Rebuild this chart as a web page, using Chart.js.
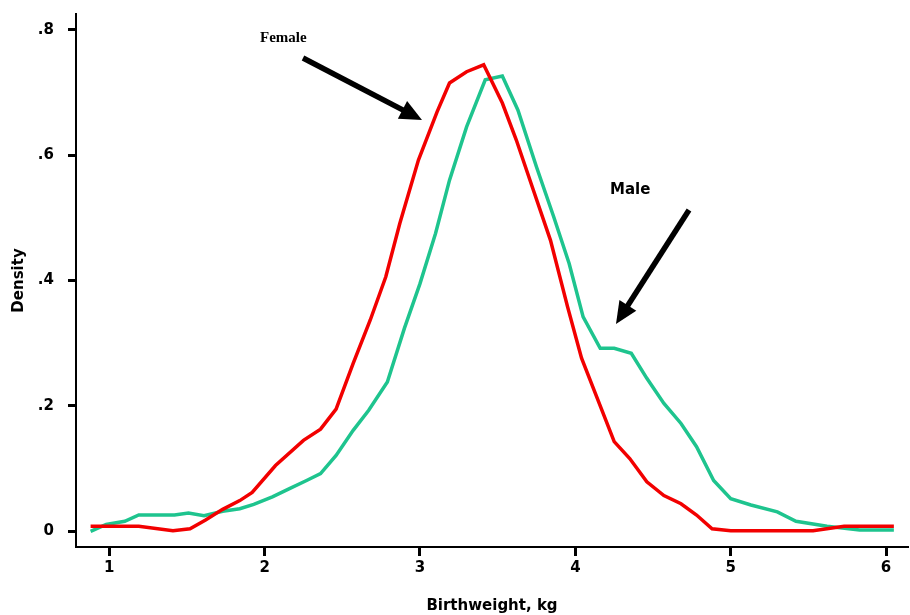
<!DOCTYPE html>
<html>
<head>
<meta charset="utf-8">
<script src="https://cdn.jsdelivr.net/npm/chart.js@4.4.1/dist/chart.umd.min.js"></script>
<style>
  html, body { margin: 0; padding: 0; background: #fff; }
  canvas { display: block; }
</style>
</head>
<body>
<canvas id="densityChart" width="910" height="615"></canvas>
<script>
// Birthweight density (kg, density)
const femaleX = [0.88, 1.19, 1.41, 1.52, 1.62, 1.73, 1.84, 1.92, 2.07, 2.25, 2.36, 2.46, 2.57, 2.68, 2.78, 2.87, 2.99, 3.11, 3.19, 3.30, 3.41, 3.53, 3.62, 3.73, 3.84, 3.95, 4.04, 4.25, 4.35, 4.46, 4.57, 4.68, 4.78, 4.88, 5.00, 5.53, 5.73, 6.05];
const femaleY = [0.008, 0.008, 0.001, 0.004, 0.018, 0.035, 0.049, 0.062, 0.105, 0.145, 0.163, 0.195, 0.268, 0.337, 0.406, 0.491, 0.592, 0.669, 0.715, 0.733, 0.744, 0.683, 0.624, 0.544, 0.464, 0.358, 0.276, 0.143, 0.116, 0.079, 0.057, 0.044, 0.026, 0.004, 0.001, 0.001, 0.008, 0.008];

const maleX = [0.88, 0.98, 1.10, 1.19, 1.42, 1.51, 1.61, 1.73, 1.84, 1.93, 2.05, 2.16, 2.27, 2.36, 2.46, 2.57, 2.67, 2.79, 2.90, 3.00, 3.10, 3.19, 3.30, 3.42, 3.53, 3.63, 3.75, 3.86, 3.96, 4.05, 4.16, 4.25, 4.36, 4.46, 4.57, 4.68, 4.78, 4.89, 5.00, 5.13, 5.30, 5.42, 5.62, 5.83, 6.05];
const maleY = [0.0, 0.011, 0.016, 0.026, 0.026, 0.029, 0.025, 0.032, 0.036, 0.043, 0.055, 0.068, 0.081, 0.092, 0.121, 0.161, 0.193, 0.238, 0.324, 0.395, 0.475, 0.560, 0.645, 0.720, 0.726, 0.672, 0.581, 0.502, 0.427, 0.342, 0.292, 0.292, 0.284, 0.244, 0.204, 0.172, 0.135, 0.081, 0.052, 0.042, 0.031, 0.016, 0.008, 0.002, 0.002];

const xTicks = [1, 2, 3, 4, 5, 6];
const yTicks = [0, 0.2, 0.4, 0.6, 0.8];
const yTickLabels = ['0', '.2', '.4', '.6', '.8'];

const toPoints = (xs, ys) => xs.map((x, i) => ({ x: x, y: ys[i] }));

// Arrows and the two curve labels
const notesPlugin = {
    id: 'notes',
    afterDraw(chart) {
        const ctx = chart.ctx;
        ctx.save();
        ctx.fillStyle = '#000';
        ctx.textBaseline = 'alphabetic';
        ctx.textAlign = 'left';
        ctx.font = 'bold 15px "Liberation Serif", "Times New Roman", serif';
        ctx.fillText('Female', 260, 42);
        ctx.font = 'bold 15px "DejaVu Sans", Verdana, sans-serif';
        ctx.fillText('Male', 610, 194);

        drawArrow(ctx, 303, 58, 422, 120);
        drawArrow(ctx, 689, 210, 616, 324);
        ctx.restore();
    }
};

function drawArrow(ctx, x1, y1, x2, y2) {
    const ang = Math.atan2(y2 - y1, x2 - x1);
    const headLen = 22;
    const headHalf = 10;
    const bx = x2 - headLen * Math.cos(ang);
    const by = y2 - headLen * Math.sin(ang);
    ctx.strokeStyle = '#000';
    ctx.lineWidth = 5.5;
    ctx.lineCap = 'butt';
    ctx.beginPath();
    ctx.moveTo(x1, y1);
    ctx.lineTo(bx + 4 * Math.cos(ang), by + 4 * Math.sin(ang));
    ctx.stroke();
    ctx.beginPath();
    ctx.moveTo(x2, y2);
    ctx.lineTo(bx + headHalf * Math.sin(ang), by - headHalf * Math.cos(ang));
    ctx.lineTo(bx - headHalf * Math.sin(ang), by + headHalf * Math.cos(ang));
    ctx.closePath();
    ctx.fill();
}

const tickFont = { family: '"DejaVu Sans", Verdana, sans-serif', size: 15, weight: 'bold' };
const titleFont = { family: '"DejaVu Sans", Verdana, sans-serif', size: 15, weight: 'bold' };

const ctx = document.getElementById('densityChart').getContext('2d');
new Chart(ctx, {
    type: 'line',
    data: {
        datasets: [
            {
                label: 'Female',
                data: toPoints(femaleX, femaleY),
                borderColor: '#f20000',
                borderWidth: 3.5,
                pointRadius: 0,
                tension: 0,
                fill: false
            },
            {
                label: 'Male',
                data: toPoints(maleX, maleY),
                borderColor: '#1ec48e',
                borderWidth: 3.5,
                pointRadius: 0,
                tension: 0,
                fill: false
            }
        ]
    },
    options: {
        responsive: false,
        animation: false,
        layout: { padding: { top: 14, right: 2, left: 0, bottom: 0 } },
        plugins: {
            legend: { display: false },
            tooltip: { enabled: false }
        },
        scales: {
            x: {
                type: 'linear',
                min: 0.786,
                max: 6.141,
                afterBuildTicks: (scale) => { scale.ticks = xTicks.map(v => ({ value: v })); },
                afterFit: (scale) => {
                    scale.height = 68;
                    scale.paddingLeft = 0;
                    scale.paddingRight = 0;
                },
                ticks: {
                    color: '#000',
                    font: tickFont,
                    padding: 3,
                    maxRotation: 0,
                    callback: (v) => String(v)
                },
                grid: {
                    display: true,
                    drawOnChartArea: false,
                    drawTicks: true,
                    tickLength: 9,
                    tickWidth: 3,
                    tickColor: '#000'
                },
                border: { display: true, color: '#000', width: 2 },
                title: {
                    display: true,
                    text: 'Birthweight, kg',
                    color: '#000',
                    font: titleFont,
                    padding: 0
                }
            },
            y: {
                type: 'linear',
                min: -0.025,
                max: 0.825,
                afterBuildTicks: (scale) => { scale.ticks = yTicks.map(v => ({ value: v })); },
                afterFit: (scale) => {
                    scale.width = 76;
                    scale.paddingTop = 0;
                    scale.paddingBottom = 0;
                },
                ticks: {
                    color: '#000',
                    font: tickFont,
                    padding: 14,
                    callback: (v) => {
                        const i = yTicks.findIndex(t => Math.abs(t - v) < 1e-6);
                        return i >= 0 ? yTickLabels[i] : '';
                    }
                },
                grid: {
                    display: true,
                    drawOnChartArea: false,
                    drawTicks: true,
                    tickLength: 8,
                    tickWidth: 3,
                    tickColor: '#000'
                },
                border: { display: true, color: '#000', width: 2 },
                title: {
                    display: true,
                    text: 'Density',
                    color: '#000',
                    font: titleFont,
                    padding: { top: 10, bottom: 0 }
                }
            }
        }
    },
    plugins: [notesPlugin]
});
</script>
</body>
</html>
